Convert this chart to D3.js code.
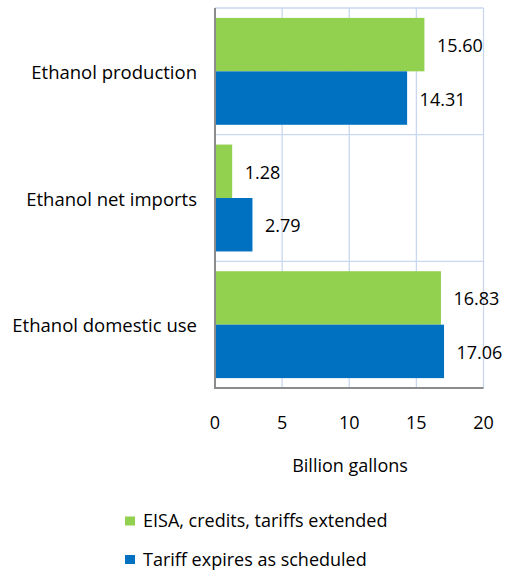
<!DOCTYPE html>
<html><head><meta charset="utf-8">
<script src="https://cdn.jsdelivr.net/npm/d3@7"></script>
<style>body{margin:0;background:#fff}svg{display:block}text{font-family:"Open Sans",sans-serif;fill:#000}</style>
</head><body>
<script>
const categories = ["Ethanol production", "Ethanol net imports", "Ethanol domestic use"];
const seriesNames = ["EISA, credits, tariffs extended", "Tariff expires as scheduled"];
const eisaValues = [15.60, 1.28, 16.83];
const tariffValues = [14.31, 2.79, 17.06];
const xTicks = [0, 5, 10, 15, 20];
const colors = ["#92d050", "#0070c0"];

const W = 512, H = 572;
const m = {left: 215, right: 28.5, top: 8, bottom: 184};
const svg = d3.select("body").append("svg").attr("width", W).attr("height", H);
const x = d3.scaleLinear().domain([0, 20]).range([m.left, W - m.right]);
const y = d3.scaleBand().domain(categories).range([m.top, H - m.bottom]).paddingInner(0).paddingOuter(0);
const inner = d3.scaleBand().domain([0, 1]).range([0, y.bandwidth()]).paddingInner(0).paddingOuter(0.185);

svg.append("g").selectAll("line").data(xTicks.slice(1)).join("line")
  .attr("x1", d => x(d)).attr("x2", d => x(d)).attr("y1", m.top).attr("y2", H - m.bottom)
  .attr("stroke", "#c9d7f0").attr("stroke-width", 1.3);
const bounds = categories.map(c => y(c));
svg.append("g").selectAll("line").data(bounds).join("line")
  .attr("x1", m.left).attr("x2", x(20)).attr("y1", d => d).attr("y2", d => d)
  .attr("stroke", "#c9d7f0").attr("stroke-width", 1.3);

const data = categories.map((c, i) => ({c, vals: [eisaValues[i], tariffValues[i]]}));
const g = svg.append("g").selectAll("g").data(data).join("g")
  .attr("transform", d => `translate(0,${y(d.c)})`);
g.selectAll("rect").data(d => d.vals.map((v, k) => ({v, k}))).join("rect")
  .attr("x", x(0)).attr("y", d => inner(d.k)).attr("width", d => x(d.v) - x(0))
  .attr("height", inner.bandwidth()).attr("fill", d => colors[d.k]);
g.selectAll("text.val").data(d => d.vals.map((v, k) => ({v, k}))).join("text").attr("class", "val")
  .attr("x", d => x(d.v) + 12.5).attr("y", d => inner(d.k) + inner.bandwidth() / 2 + 1)
  .attr("dy", "0.36em").attr("font-size", 18).text(d => d.v.toFixed(2));

svg.append("line").attr("x1", m.left).attr("x2", m.left).attr("y1", m.top).attr("y2", H - m.bottom + 1)
  .attr("stroke", "#8c8c8c").attr("stroke-width", 2);
svg.append("line").attr("x1", m.left - 1).attr("x2", x(20)).attr("y1", H - m.bottom).attr("y2", H - m.bottom)
  .attr("stroke", "#8c8c8c").attr("stroke-width", 2);

svg.append("g").selectAll("text").data(categories).join("text")
  .attr("x", m.left - 18).attr("y", c => y(c) + y.bandwidth() / 2 + 1)
  .attr("text-anchor", "end").attr("dy", "0.36em").attr("font-size", 18.5).text(d => d);

svg.append("g").selectAll("text").data(xTicks).join("text")
  .attr("x", d => x(d)).attr("y", 423).attr("dy", "0.36em")
  .attr("text-anchor", "middle").attr("font-size", 18).text(d => d);

svg.append("text").attr("x", 350).attr("y", 466).attr("dy", "0.36em")
  .attr("text-anchor", "middle").attr("font-size", 18).text("Billion gallons");

const leg = svg.append("g").selectAll("g").data(seriesNames).join("g")
  .attr("transform", (d, i) => `translate(125,${516.5 + i * 38.5})`);
leg.append("rect").attr("width", 10).attr("height", 9).attr("fill", (d, i) => colors[i]);
leg.append("text").attr("x", 18).attr("y", 4.5).attr("dy", "0.36em").attr("font-size", 18).text(d => d);
</script>
</body></html>
